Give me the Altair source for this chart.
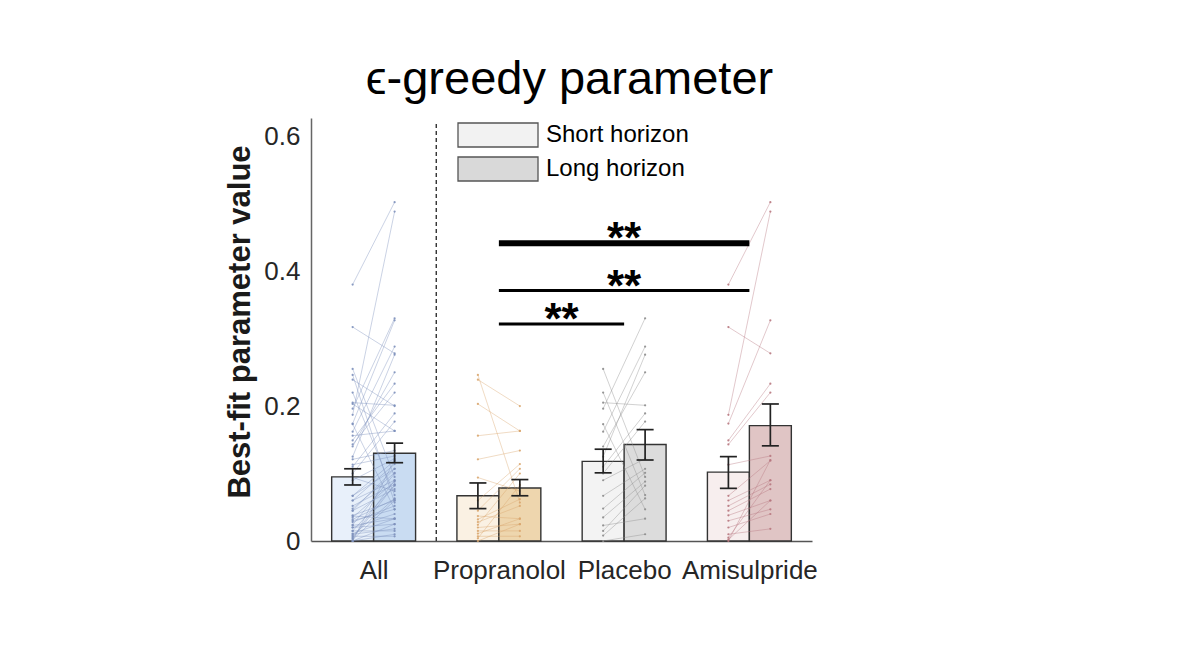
import altair as alt
import pandas as pd

# ---------------- data ----------------
groups = ["All", "Propranolol", "Placebo", "Amisulpride"]
group_pos = [1, 2, 3, 4]

short_mean = [0.095, 0.067, 0.118, 0.102]
long_mean = [0.130, 0.0785, 0.143, 0.171]
short_err_lo = [0.083, 0.048, 0.101, 0.078]
short_err_hi = [0.107, 0.086, 0.136, 0.125]
long_err_lo = [0.116, 0.067, 0.120, 0.141]
long_err_hi = [0.145, 0.091, 0.165, 0.203]

short_fill = ["#e8f0fa", "#faf1e3", "#f3f3f3", "#f7eeee"]
long_fill = ["#c9dcf2", "#eed6ae", "#dcdcdc", "#e0c5c5"]
line_color = ["#7d90bb", "#d9a66e", "#8c8c8c", "#b87880"]

prop_short = [0.246, 0.239, 0.203, 0.156, 0.121, 0.094, 0.060, 0.045, 0.037,
              0.032, 0.028, 0.024, 0.020, 0.015, 0.011, 0.007, 0.004, 0.000]
prop_long = [0.057, 0.200, 0.163, 0.163, 0.134, 0.074, 0.114, 0.107, 0.033,
             0.062, 0.052, 0.100, 0.025, 0.015, 0.033, 0.007, 0.083, 0.025]

plac_short = [0.255, 0.220, 0.205, 0.196, 0.173, 0.162, 0.140, 0.125, 0.110,
              0.100, 0.090, 0.067, 0.048, 0.035, 0.023, 0.015, 0.008, 0.000]
plac_long = [0.095, 0.068, 0.201, 0.330, 0.047, 0.288, 0.250, 0.276, 0.189,
             0.177, 0.122, 0.107, 0.101, 0.088, 0.033, 0.082, 0.063, 0.010]

amis_short = [0.380, 0.317, 0.187, 0.174, 0.149, 0.143, 0.113, 0.067, 0.060,
              0.052, 0.045, 0.038, 0.030, 0.020, 0.010, 0.005, 0.002, 0.000]
amis_long = [0.502, 0.278, 0.488, 0.327, 0.233, 0.220, 0.126, 0.119, 0.090,
             0.084, 0.077, 0.060, 0.047, 0.040, 0.018, 0.090, 0.060, 0.120]

all_short = prop_short + plac_short + amis_short
all_long = prop_long + plac_long + amis_long

subjects_short = [all_short, prop_short, plac_short, amis_short]
subjects_long = [all_long, prop_long, plac_long, amis_long]

divider_x = [1.5]
divider_top = [0.622]

sig_from = [2, 2, 2]
sig_to = [4, 4, 3]
sig_y = [0.441, 0.371, 0.3215]
sig_width = [6, 3, 3]
sig_label = ["**", "**", "**"]

legend_labels = ["Short horizon", "Long horizon"]
legend_fill = ["#f2f2f2", "#d9d9d9"]

labels_js = "[" + ",".join("'" + g + "'" for g in groups) + "]"

# ---------------- tables ----------------
half_bar = 0.335
cap_half = 0.068

bar_rows, err_rows, cap_rows, line_rows = [], [], [], []
for i, g in enumerate(groups):
    p = group_pos[i]
    bar_rows.append(dict(x=p - half_bar, x2=p, mean=short_mean[i], base=0.0, fill=short_fill[i]))
    bar_rows.append(dict(x=p, x2=p + half_bar, mean=long_mean[i], base=0.0, fill=long_fill[i]))
    xs_c = p - half_bar / 2
    xl_c = p + half_bar / 2
    err_rows.append(dict(xc=xs_c, lo=short_err_lo[i], hi=short_err_hi[i]))
    err_rows.append(dict(xc=xl_c, lo=long_err_lo[i], hi=long_err_hi[i]))
    for xc, lo, hi in [(xs_c, short_err_lo[i], short_err_hi[i]), (xl_c, long_err_lo[i], long_err_hi[i])]:
        cap_rows.append(dict(c1=xc - cap_half, c2=xc + cap_half, yv=lo))
        cap_rows.append(dict(c1=xc - cap_half, c2=xc + cap_half, yv=hi))
    for k, (s, l) in enumerate(zip(subjects_short[i], subjects_long[i])):
        sid = f"{g}-{k}"
        line_rows.append(dict(sid=sid, x=xs_c, v=s, c=line_color[i]))
        line_rows.append(dict(sid=sid, x=xl_c, v=l, c=line_color[i]))

bars_df = pd.DataFrame(bar_rows)
err_df = pd.DataFrame(err_rows)
cap_df = pd.DataFrame(cap_rows)
line_df = pd.DataFrame(line_rows)
div_df = pd.DataFrame({"x": divider_x, "y0": [0.0], "y1": divider_top})
sig_df = pd.DataFrame({"a": sig_from, "b": sig_to, "y": sig_y, "w": sig_width, "t": sig_label})
sig_df["mid"] = (sig_df["a"] + sig_df["b"]) / 2
leg_df = pd.DataFrame({"horizon": legend_labels, "x": [1, 1], "y": [0.0, 0.0]})

# ---------------- scales / axes ----------------
FONT = "Liberation Sans"
xs = alt.Scale(domain=[0.5, 4.5], nice=False, zero=False)
ys = alt.Scale(domain=[0, 0.6267], nice=False, zero=False)

ax_x = alt.Axis(values=group_pos, labelExpr=labels_js + "[datum.value - 1]", title=None,
                ticks=False, tickSize=0, grid=False, domainColor="#555555", domainWidth=1.5,
                labelFontSize=26, labelFont=FONT, labelColor="#262626", labelPadding=16,
                labelFlush=False, labelOverlap=False)
ax_y = alt.Axis(values=[0, 0.2, 0.4, 0.6], format=".1~f", title="Best-fit parameter value",
                ticks=False, tickSize=0, grid=False, domainColor="#666666", domainWidth=1.5,
                labelFontSize=26, labelFont=FONT, labelColor="#262626", labelPadding=11,
                titleFontSize=31, titleFont=FONT, titleFontWeight="bold", titleColor="#1a1a1a",
                titleAngle=-90, titleX=-71, titleY=203.5, titleAlign="center", titleBaseline="middle")

def X(f):
    return alt.X(f, scale=xs, axis=ax_x)

def Y(f):
    return alt.Y(f, scale=ys, axis=ax_y)

bars = alt.Chart(bars_df).mark_rect(stroke="#333333", strokeWidth=1.4).encode(
    x=X("x:Q"), x2="x2:Q", y=Y("mean:Q"), y2="base:Q",
    fill=alt.Fill("fill:N", scale=None))

lines = alt.Chart(line_df).mark_line(strokeWidth=0.9, opacity=0.45).encode(
    x=X("x:Q"), y=Y("v:Q"), detail="sid:N", stroke=alt.Stroke("c:N", scale=None))

pts = alt.Chart(line_df).mark_circle(size=5, opacity=0.9).encode(
    x=X("x:Q"), y=Y("v:Q"), fill=alt.Fill("c:N", scale=None))

err = alt.Chart(err_df).mark_rule(color="#222222", strokeWidth=1.7).encode(
    x=X("xc:Q"), y=Y("lo:Q"), y2="hi:Q")

caps = alt.Chart(cap_df).mark_rule(color="#222222", strokeWidth=1.7).encode(
    x=X("c1:Q"), x2="c2:Q", y=Y("yv:Q"))

divider = alt.Chart(div_df).mark_rule(color="#222222", strokeWidth=1.3, strokeDash=[4, 3]).encode(
    x=X("x:Q"), y=Y("y0:Q"), y2="y1:Q")

sig = alt.Chart(sig_df).mark_rule(color="black").encode(
    x=X("a:Q"), x2="b:Q", y=Y("y:Q"), strokeWidth=alt.StrokeWidth("w:Q", scale=None))

sig_txt = alt.Chart(sig_df).mark_text(font=FONT, fontSize=44, fontWeight="bold", color="black",
                                      baseline="alphabetic", align="center", dy=10).encode(
    x=X("mid:Q"), y=Y("y:Q"), text="t:N")

legend_layer = alt.Chart(leg_df).mark_point(filled=True, size=0, opacity=0).encode(
    x=X("x:Q"), y=Y("y:Q"),
    color=alt.Color("horizon:N",
                    scale=alt.Scale(domain=legend_labels, range=legend_fill),
                    legend=alt.Legend(title=None, orient="none", legendX=146, legendY=4,
                                      direction="vertical", padding=0,
                                      symbolType="M-1,-1H5.667V1H-1Z", symbolSize=576,
                                      symbolStrokeColor="#555555", symbolStrokeWidth=1.3,
                                      symbolOpacity=1,
                                      labelFont=FONT, labelFontSize=24, labelColor="black",
                                      labelOffset=63, rowPadding=4, labelLimit=400)))

chart = alt.layer(bars, lines, pts, err, caps, divider, sig, sig_txt, legend_layer).properties(
    width=501, height=423, autosize="none",
    padding={"left": 303, "top": 110, "right": 40, "bottom": 80},
    title=alt.TitleParams("ϵ-greedy parameter", font=FONT, fontSize=47, fontWeight="normal",
                          color="black", anchor="middle", frame="group", dx=8, dy=44,
                          offset=21, baseline="alphabetic"),
).configure(background="white").configure_view(stroke=None)

chart.save("out.html", embed_options={"renderer": "svg", "actions": False})
